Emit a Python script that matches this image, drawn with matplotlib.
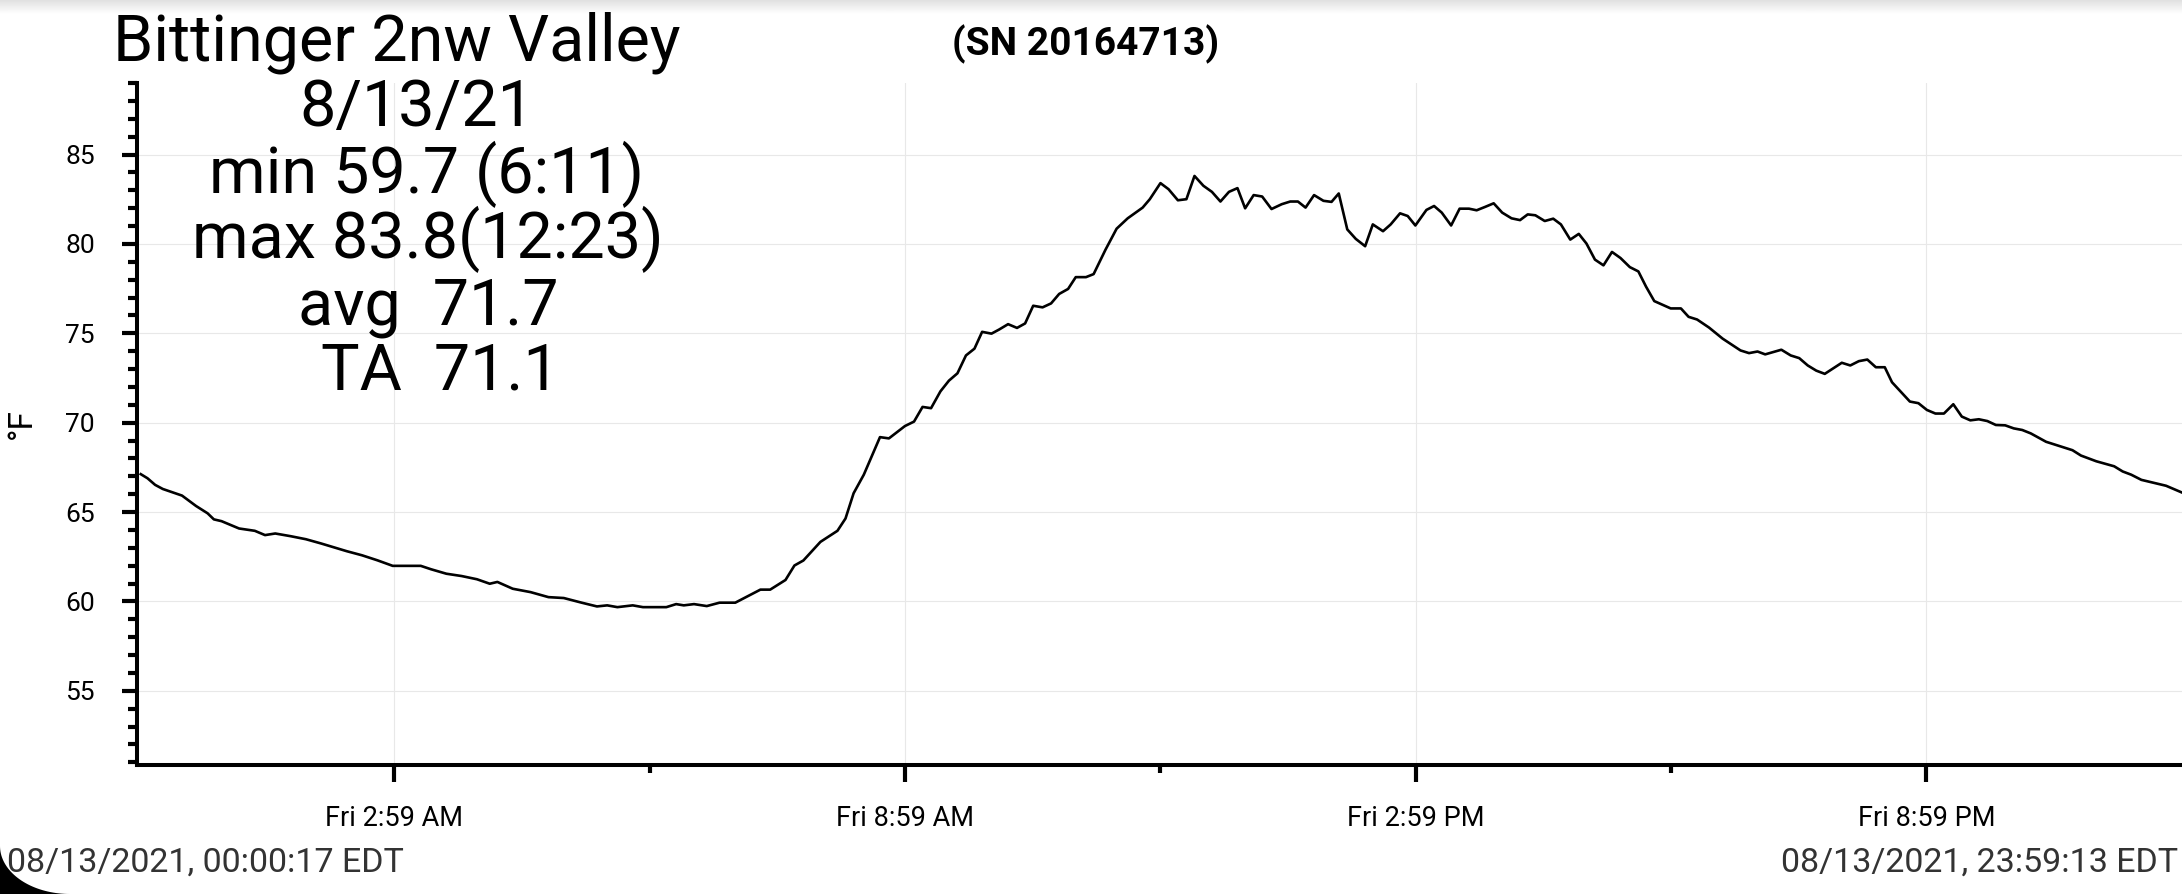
import numpy as np
import matplotlib
matplotlib.use("Agg")
import matplotlib.pyplot as plt
from matplotlib.path import Path
from matplotlib.patches import PathPatch

plt.rcParams['font.family'] = ['Roboto', 'DejaVu Sans']

# hours since midnight, temperature in F
hours = [0.005, 0.084, 0.174, 0.264, 0.49, 0.654, 0.79, 0.864, 0.954, 1.16,
         1.345, 1.465, 1.585, 1.765, 1.945, 2.125, 2.425, 2.605, 2.785, 2.965,
         3.295, 3.415, 3.595, 3.775, 3.955, 4.105, 4.195, 4.375, 4.585, 4.795,
         4.975, 5.185, 5.365, 5.485, 5.605, 5.785, 5.905, 6.18, 6.295, 6.385,
         6.505, 6.655, 6.805, 6.99, 7.285, 7.40, 7.58, 7.685, 7.79, 7.99,
         8.19, 8.285, 8.38, 8.50, 8.69, 8.795, 8.983, 9.09, 9.19, 9.29,
         9.40, 9.50, 9.60, 9.70, 9.80, 9.89, 10.00, 10.09, 10.195, 10.30,
         10.395, 10.49, 10.60, 10.70, 10.795, 10.90, 10.99, 11.11, 11.20, 11.34,
         11.47, 11.60, 11.776, 11.86, 11.985, 12.08, 12.19, 12.29, 12.385, 12.49,
         12.59, 12.69, 12.79, 12.89, 12.98, 13.08, 13.18, 13.29, 13.41, 13.51,
         13.60, 13.69, 13.79, 13.90, 13.995, 14.08, 14.18, 14.28, 14.39, 14.48,
         14.60, 14.69, 14.80, 14.89, 14.98, 15.11, 15.20, 15.29, 15.40, 15.50,
         15.61, 15.70, 15.80, 15.90, 16.00, 16.11, 16.21, 16.30, 16.39, 16.50,
         16.60, 16.69, 16.80, 16.90, 16.99, 17.09, 17.19, 17.29, 17.39, 17.50,
         17.60, 17.69, 17.787, 17.98, 18.10, 18.19, 18.29, 18.43, 18.59, 18.80,
         18.90, 19.00, 19.09, 19.28, 19.39, 19.49, 19.59, 19.69, 19.79, 19.99,
         20.09, 20.19, 20.29, 20.39, 20.495, 20.58, 20.69, 20.79, 20.89, 20.99,
         21.09, 21.19, 21.30, 21.40, 21.50, 21.60, 21.70, 21.80, 21.91, 22.01,
         22.11, 22.21, 22.39, 22.70, 22.80, 22.98, 23.19, 23.29, 23.39, 23.51,
         23.72, 23.80, 23.987]
temps = [67.12, 66.89, 66.52, 66.29, 65.92, 65.34, 64.93, 64.59, 64.49, 64.08,
         63.95, 63.71, 63.80, 63.65, 63.48, 63.24, 62.81, 62.58, 62.30, 61.99,
         61.99, 61.80, 61.55, 61.42, 61.24, 60.99, 61.09, 60.71, 60.52, 60.24,
         60.19, 59.93, 59.72, 59.78, 59.68, 59.78, 59.68, 59.68, 59.85, 59.78,
         59.85, 59.74, 59.93, 59.93, 60.66, 60.66, 61.20, 62.01, 62.29, 63.33,
         63.95, 64.64, 66.05, 67.09, 69.19, 69.12, 69.81, 70.06, 70.88, 70.81,
         71.75, 72.35, 72.76, 73.76, 74.14, 75.08, 74.98, 75.21, 75.51, 75.30,
         75.55, 76.54, 76.45, 76.67, 77.20, 77.48, 78.14, 78.14, 78.31, 79.68,
         80.85, 81.43, 82.03, 82.50, 83.40, 83.06, 82.44, 82.50, 83.80, 83.25,
         82.91, 82.37, 82.91, 83.12, 81.99, 82.73, 82.65, 81.95, 82.22, 82.37,
         82.37, 82.03, 82.73, 82.41, 82.35, 82.82, 80.81, 80.28, 79.87, 81.09,
         80.71, 81.09, 81.71, 81.56, 81.03, 81.90, 82.12, 81.75, 81.03, 81.97,
         81.97, 81.88, 82.07, 82.27, 81.75, 81.43, 81.33, 81.65, 81.60, 81.28,
         81.41, 81.09, 80.24, 80.56, 80.02, 79.12, 78.80, 79.55, 79.21, 78.70,
         78.46, 77.61, 76.80, 76.39, 76.39, 75.92, 75.77, 75.32, 74.70, 74.04,
         73.89, 73.98, 73.82, 74.08, 73.76, 73.61, 73.20, 72.91, 72.73, 73.35,
         73.20, 73.44, 73.53, 73.10, 73.10, 72.26, 71.69, 71.18, 71.09, 70.71,
         70.51, 70.51, 71.03, 70.34, 70.13, 70.19, 70.09, 69.87, 69.85, 69.68,
         69.59, 69.40, 68.93, 68.46, 68.16, 67.84, 67.56, 67.27, 67.09, 66.80,
         66.56, 66.47, 66.09]

major_hours = [2.983, 8.983, 14.983, 20.983]
minor_hours = [5.983, 11.983, 17.983]
major_labels = ["Fri 2:59 AM", "Fri 8:59 AM", "Fri 2:59 PM", "Fri 8:59 PM"]
y_major = [55, 60, 65, 70, 75, 80, 85]

info_lines = ["Bittinger 2nw Valley", "8/13/21", "min 59.7 (6:11)",
              "max 83.8(12:23)", "avg  71.7", "TA  71.1"]
serial = "(SN 20164713)"
start_label = "08/13/2021, 00:00:17 EDT"
end_label = "08/13/2021, 23:59:13 EDT"

W, H = 2182, 894
fig = plt.figure(figsize=(W / 100, H / 100), dpi=100)

# faint shadow along the top edge of the screenshot
top = fig.add_axes([0, 1 - 14 / H, 1, 14 / H])
grad = np.linspace(0.88, 1.0, 50).reshape(-1, 1)
top.imshow(grad, cmap='gray', vmin=0, vmax=1, aspect='auto', extent=[0, 1, 0, 1])
top.axis('off')

ax = fig.add_axes([136.5 / W, (H - 765) / H, 1 - 136.5 / W, (765 - 83) / H])
ax.plot(hours, temps, color='black', lw=1.9)

ax.set_xlim(-0.045, 23.987)
ax.set_ylim(50.85, 89.0)

ax.set_xticks(major_hours)
ax.set_xticklabels(major_labels)
ax.set_xticks(minor_hours, minor=True)
ax.set_yticks(y_major)
ax.set_yticks(np.arange(51, 90, 1), minor=True)

ax.tick_params(axis='x', which='major', length=12, width=3, pad=17, labelsize=19.5)
ax.tick_params(axis='x', which='minor', length=6, width=3)
ax.tick_params(axis='y', which='major', length=11, width=3, pad=19, labelsize=19)
ax.tick_params(axis='y', which='minor', length=6.5, width=3)

ax.grid(True, which='major', color='#e8e8e8', lw=0.8)
ax.set_axisbelow(True)
for s in ['top', 'right']:
    ax.spines[s].set_visible(False)
for s in ['left', 'bottom']:
    ax.spines[s].set_linewidth(2.9)

fig.text(22 / W, 1 - 424 / H, "°F", rotation=90, ha='center', va='center', fontsize=24)

# station summary text block
centers = [397, 417, 427, 428, 428, 440]
baselines = [61, 126, 193, 258, 325, 390]
for line, cx, by in zip(info_lines, centers, baselines):
    fig.text(cx / W, 1 - by / H, line, ha='center', va='baseline', fontsize=46.5)

fig.text(1086 / W, 1 - 55 / H, serial, ha='center', va='baseline',
         fontsize=28, fontweight='bold')

fig.text(7 / W, 1 - 872 / H, start_label, ha='left', va='baseline',
         fontsize=24.5, color='#333333')
fig.text(1 - 4 / W, 1 - 872 / H, end_label, ha='right', va='baseline',
         fontsize=24.5, color='#333333')

# rounded screen corner at the bottom left
a, b = 70, 48
th = np.linspace(np.pi, 1.5 * np.pi, 40)
arc_x = a + a * np.cos(th)
arc_y = b + b * np.sin(th)
verts = [(0, 0)] + list(zip(arc_x[::-1], arc_y[::-1])) + [(0, 0)]
verts = [(x / W, y / H) for x, y in verts]
corner = PathPatch(Path(verts), facecolor='black', edgecolor='none',
                   transform=fig.transFigure)
fig.patches.append(corner)

fig.savefig('out.png', dpi=100)
